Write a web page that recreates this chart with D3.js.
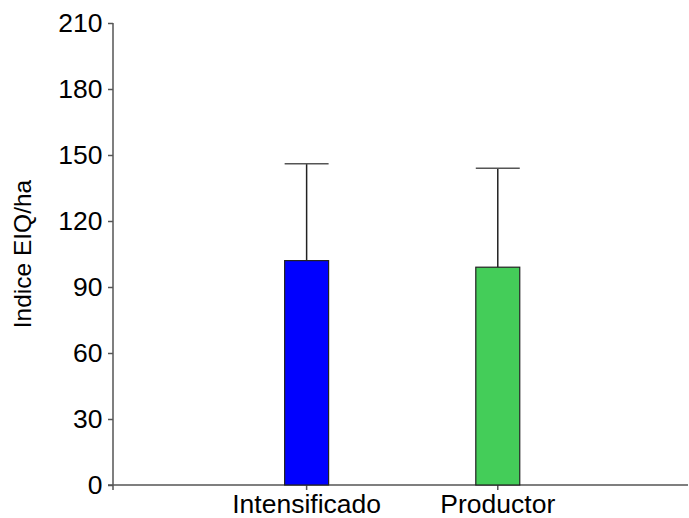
<!DOCTYPE html>
<html>
<head>
<meta charset="utf-8">
<script src="https://cdn.jsdelivr.net/npm/d3@7"></script>
<style>
  html, body { margin: 0; padding: 0; background: #fff; }
  svg { display: block; font-family: "Liberation Sans", Arial, sans-serif; }
</style>
</head>
<body>
<svg id="chart" width="689" height="518"></svg>
<script>
// Treatment groups and their mean EIQ field-use index per hectare
const categories = ["Intensificado", "Productor"];
const means = [102, 99];
const upperErrors = [44, 45];          // mean + error = top of whisker
const barColors = ["#0000ff", "#44cd59"];
const yTicks = [0, 30, 60, 90, 120, 150, 180, 210];
const yLabel = "Indice EIQ/ha";

const svg = d3.select("#chart");
const margin = { left: 113, right: 1, top: 23, bottom: 33 };
const W = 689, H = 518;

const y = d3.scaleLinear()
  .domain([0, 210])
  .range([H - margin.bottom, margin.top]);

const x = d3.scaleBand()
  .domain(categories)
  .range([margin.left, W - margin.right])
  .paddingInner(0.77)
  .paddingOuter(0.889)
  .align(0.505);

const axisColor = "#555";
const labelSize = "25px";
const stretch = "scale(1.06,1)";

// Y axis
const yAxis = svg.append("g")
  .attr("transform", `translate(${margin.left},0)`)
  .call(d3.axisLeft(y).tickValues(yTicks).tickSize(5).tickSizeOuter(0).tickPadding(5));
yAxis.select(".domain").attr("stroke", axisColor).attr("stroke-width", 1.5)
  .attr("d", `M0,${y(210)}V${y(0) + 5}`);
yAxis.selectAll(".tick line").attr("stroke", axisColor).attr("stroke-width", 1.5);
yAxis.selectAll(".tick text")
  .attr("fill", "#000")
  .style("font-size", labelSize)
  .attr("transform", stretch);

// X axis
const xAxis = svg.append("g")
  .attr("transform", `translate(0,${y(0)})`)
  .call(d3.axisBottom(x).tickSize(5).tickSizeOuter(0).tickPadding(5));
xAxis.select(".domain").attr("stroke", axisColor).attr("stroke-width", 1.5)
  .attr("d", `M${margin.left - 5},0H${W - margin.right}`);
xAxis.selectAll(".tick line").attr("stroke", axisColor).attr("stroke-width", 1.5);
xAxis.selectAll(".tick text")
  .attr("fill", "#000")
  .style("font-size", labelSize)
  .attr("transform", stretch);

// Error whiskers (upper only)
const err = svg.append("g");
categories.forEach((c, i) => {
  const cx = x(c) + x.bandwidth() / 2;
  err.append("line")
    .attr("x1", cx).attr("x2", cx)
    .attr("y1", y(means[i])).attr("y2", y(means[i] + upperErrors[i]))
    .attr("stroke", "#222").attr("stroke-width", 1.5);
  err.append("line")
    .attr("x1", x(c)).attr("x2", x(c) + x.bandwidth())
    .attr("y1", y(means[i] + upperErrors[i])).attr("y2", y(means[i] + upperErrors[i]))
    .attr("stroke", axisColor).attr("stroke-width", 1.5);
});

// Bars
svg.append("g").selectAll("rect")
  .data(categories)
  .join("rect")
  .attr("x", d => x(d))
  .attr("width", x.bandwidth())
  .attr("y", (d, i) => y(means[i]))
  .attr("height", (d, i) => y(0) - y(means[i]))
  .attr("fill", (d, i) => barColors[i])
  .attr("stroke", "#222")
  .attr("stroke-width", 1.2);

// Y axis title
svg.append("text")
  .attr("transform", `translate(31,${(y(0) + y(210)) / 2}) rotate(-90)`)
  .attr("text-anchor", "middle")
  .style("font-size", "24.5px")
  .attr("fill", "#000")
  .text(yLabel);
</script>
</body>
</html>
